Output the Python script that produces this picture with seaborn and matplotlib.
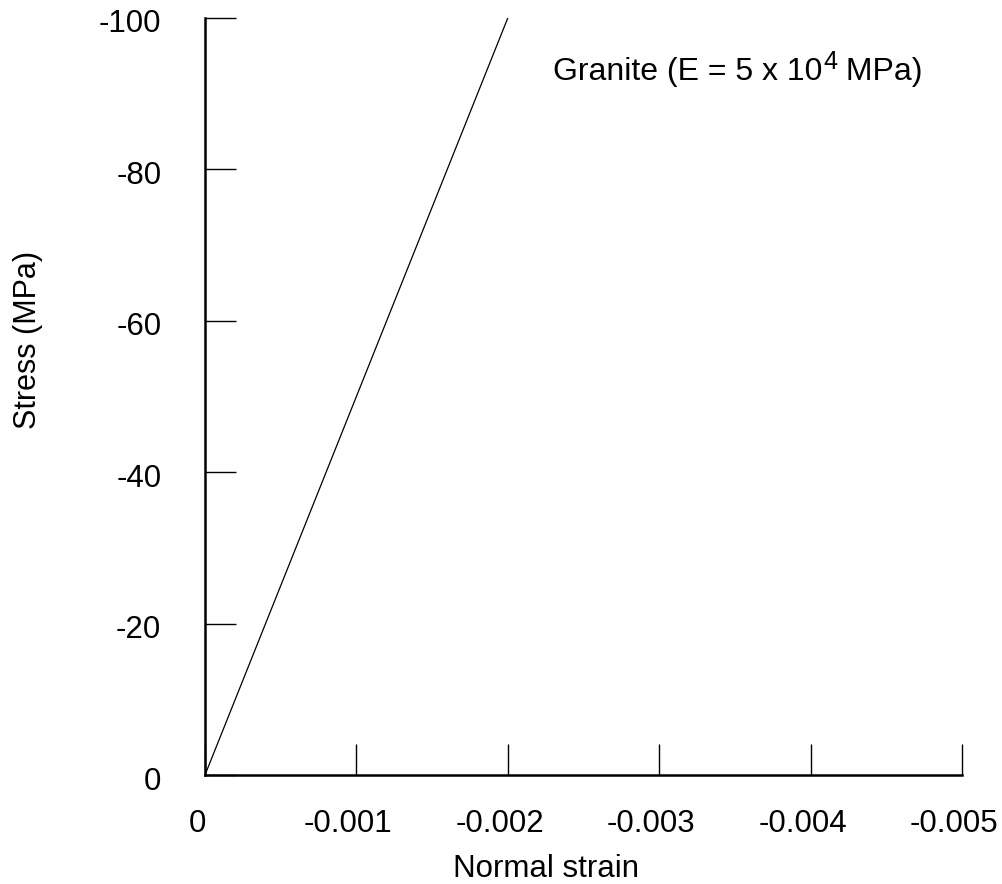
import matplotlib
matplotlib.use("Agg")
import matplotlib.pyplot as plt
import matplotlib.transforms as mtransforms
import seaborn as sns
import pandas as pd

strain = [0.0, -0.002]
stress = [0.0, -100.0]
x_ticks = [0, -0.001, -0.002, -0.003, -0.004, -0.005]
x_labels = ["0", "-0.001", "-0.002", "-0.003", "-0.004", "-0.005"]
y_ticks = [0, -20, -40, -60, -80, -100]
y_labels = ["0", "-20", "-40", "-60", "-80", "-100"]
label_main = "Granite (E = 5 x 10"
label_sup = "4"
label_tail = " MPa)"

sns.set_style("ticks")
plt.rcParams['font.family'] = ['Liberation Sans', 'DejaVu Sans']
plt.rcParams['text.color'] = 'black'
plt.rcParams['axes.labelcolor'] = 'black'
plt.rcParams['xtick.color'] = 'black'
plt.rcParams['ytick.color'] = 'black'

fig = plt.figure(figsize=(10.02, 8.84), dpi=100)
ax = fig.add_axes([205/1002, 1 - 775/884, (962-205)/1002, (775-18)/884])

df = pd.DataFrame({"strain": strain, "stress": stress})
sns.lineplot(data=df, x="strain", y="stress", ax=ax, color="black", linewidth=0.9)

ax.set_xlim(0, -0.005)
ax.set_ylim(0, -100)
ax.set_xticks(x_ticks)
ax.set_xticklabels(x_labels)
ax.set_yticks(y_ticks)
ax.set_yticklabels(y_labels)
ax.tick_params(axis='both', direction='in', length=22, width=1, colors='black', labelsize=22.5)
ax.tick_params(axis='x', pad=24.5)
ax.tick_params(axis='y', pad=31.5)
for s in ['top', 'right']:
    ax.spines[s].set_visible(False)
for s in ['left', 'bottom']:
    ax.spines[s].set_linewidth(1.8)
    ax.spines[s].set_color('black')

xshift = mtransforms.ScaledTranslation(-8/100, 0, fig.dpi_scale_trans)
for lab in ax.get_xticklabels():
    lab.set_transform(lab.get_transform() + xshift)
yshift = mtransforms.ScaledTranslation(0, -3/100, fig.dpi_scale_trans)
for lab in ax.get_yticklabels():
    lab.set_transform(lab.get_transform() + yshift)

ax.set_xlabel("Normal strain", fontsize=22.5)
ax.set_ylabel("Stress (MPa)", fontsize=22)
ax.xaxis.set_label_coords((546-205)/757, (775-854)/757)
ax.yaxis.set_label_coords((43-205)/757, (775-340)/757)

# annotation with a large superscript, built from three text pieces
x0 = (553-205)/757*(-0.005)
y0 = (775-80)/757*(-100)
t1 = ax.text(x0, y0, label_main, fontsize=23, ha='left', va='baseline')
fig.canvas.draw()
r = fig.canvas.get_renderer()
bb1 = t1.get_window_extent(r)
base = ax.transData.transform((x0, y0))
inv = ax.transData.inverted()
sx, sy = inv.transform((bb1.x1 + 1, base[1] + 11))
t2 = ax.text(sx, sy, label_sup, fontsize=18, ha='left', va='baseline')
fig.canvas.draw()
bb2 = t2.get_window_extent(r)
tx, ty = inv.transform((bb2.x1, base[1]))
ax.text(tx, ty, label_tail, fontsize=23, ha='left', va='baseline')

fig.savefig("out.png", dpi=100)
